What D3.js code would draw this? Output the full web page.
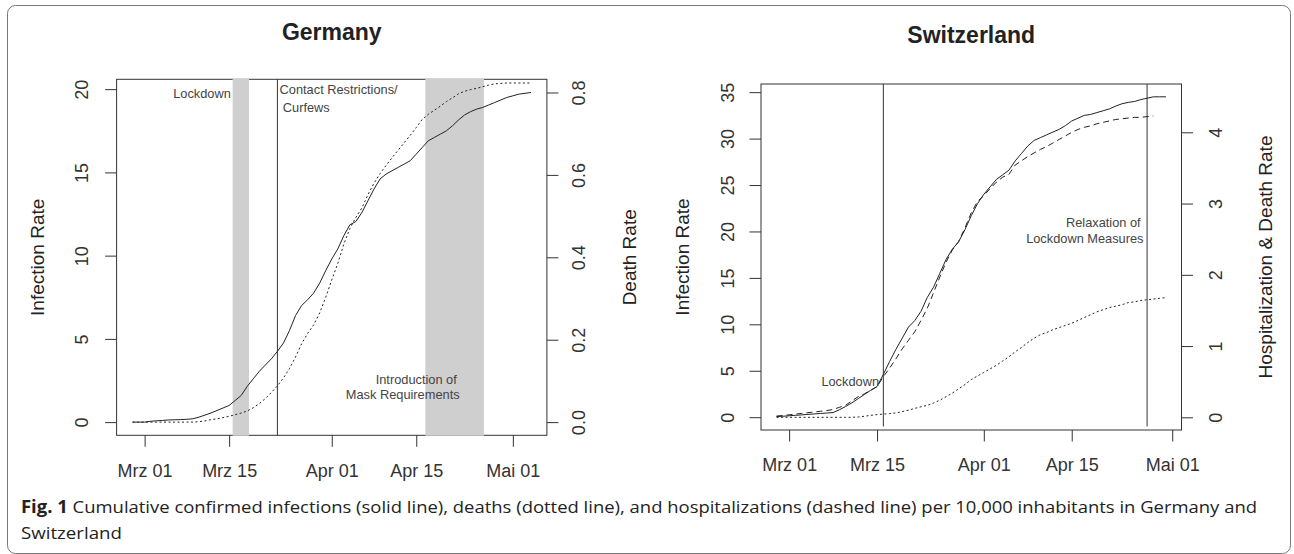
<!DOCTYPE html>
<html>
<head>
<meta charset="utf-8">
<script src="https://cdn.jsdelivr.net/npm/d3@7"></script>
<style>
  body { margin: 0; background: #fff; }
  svg { display: block; font-family: "Liberation Sans", Arial, sans-serif; }
</style>
</head>
<body>
<svg id="fig" width="1294" height="554"></svg>
<script>
// first day of every series, one value per day after that
const startDay = '2020-02-28'

const tickDays = ['2020-03-01', '2020-03-15', '2020-04-01', '2020-04-15', '2020-05-01']
const tickLabels = ['Mrz 01', 'Mrz 15', 'Apr 01', 'Apr 15', 'Mai 01']

// Germany, per 10,000 inhabitants
const deInfections = [0, 0, 0, 0.05, 0.08, 0.1, 0.13, 0.14, 0.15, 0.17, 0.2, 0.3, 0.42, 0.55, 0.7, 0.85,
  1.0, 1.3, 1.6, 2.15, 2.6, 3.05, 3.43, 3.8, 4.25, 4.75, 5.5, 6.4, 7.0, 7.35, 7.75, 8.35, 9.1, 9.8,
  10.4, 11.2, 11.85, 12.05, 12.6, 13.3, 14.0, 14.6, 14.9, 15.1, 15.3, 15.5, 15.7, 16.1, 16.5, 16.9,
  17.1, 17.3, 17.5, 17.8, 18.15, 18.45, 18.65, 18.8, 18.9, 19.05, 19.2, 19.35, 19.5, 19.6, 19.7, 19.75, 19.8]
const deDeaths = [0, 0, 0, 0, 0, 0, 0, 0, 0, 0, 0, 0.001, 0.003, 0.006, 0.008, 0.011, 0.014, 0.018,
  0.022, 0.027, 0.035, 0.045, 0.057, 0.072, 0.088, 0.107, 0.13, 0.158, 0.19, 0.215, 0.236, 0.265,
  0.303, 0.345, 0.385, 0.432, 0.47, 0.497, 0.52, 0.552, 0.58, 0.603, 0.623, 0.642, 0.66, 0.678,
  0.696, 0.715, 0.735, 0.747, 0.757, 0.767, 0.778, 0.787, 0.797, 0.803, 0.807, 0.81, 0.814, 0.818,
  0.821, 0.822, 0.823, 0.823, 0.823, 0.823, 0.823]
const deBands = [['2020-03-15 14:00', '2020-03-18 07:00'], ['2020-04-16 12:00', '2020-04-26 05:00']]
const deMarkers = ['2020-03-23 00:00']

// Switzerland, per 10,000 inhabitants
const chInfections = [0.07, 0.1, 0.15, 0.2, 0.25, 0.3, 0.35, 0.4, 0.45, 0.5, 0.8, 1.15, 1.55, 2.0,
  2.45, 2.9, 3.3, 4.6, 6.0, 7.3, 8.5, 9.7, 10.4, 11.4, 12.9, 14.0, 15.5, 17.0, 18.1, 18.9, 20.2,
  21.7, 23.0, 24.0, 24.8, 25.6, 26.1, 26.6, 27.6, 28.4, 29.2, 29.8, 30.1, 30.4, 30.7, 31.0, 31.4,
  31.9, 32.2, 32.5, 32.6, 32.8, 33.0, 33.2, 33.5, 33.75, 33.9, 34.0, 34.2, 34.35, 34.5, 34.5, 34.5]
const chHospital = [0.018, 0.025, 0.035, 0.045, 0.055, 0.065, 0.075, 0.085, 0.095, 0.11, 0.14, 0.17,
  0.23, 0.29, 0.33, 0.38, 0.43, 0.57, 0.69, 0.82, 0.96, 1.08, 1.2, 1.36, 1.53, 1.75, 1.97, 2.18,
  2.35, 2.47, 2.66, 2.87, 3.03, 3.11, 3.21, 3.3, 3.37, 3.41, 3.54, 3.6, 3.66, 3.71, 3.76, 3.8,
  3.85, 3.9, 3.95, 4.0, 4.04, 4.07, 4.09, 4.12, 4.14, 4.16, 4.18, 4.19, 4.2, 4.21, 4.21, 4.22, 4.23]
const chDeaths = [0, 0, 0, 0, 0, 0, 0, 0, 0, 0, 0, 0, 0, 0.005, 0.015, 0.028, 0.038, 0.045, 0.052,
  0.062, 0.08, 0.1, 0.125, 0.148, 0.168, 0.2, 0.24, 0.29, 0.34, 0.4, 0.46, 0.53, 0.58, 0.63, 0.68,
  0.73, 0.79, 0.85, 0.92, 0.98, 1.05, 1.11, 1.16, 1.19, 1.23, 1.26, 1.29, 1.32, 1.36, 1.4, 1.44,
  1.48, 1.51, 1.54, 1.56, 1.58, 1.61, 1.62, 1.64, 1.65, 1.66, 1.67, 1.68]
const chMarkers = ['2020-03-16 00:00', '2020-04-27 00:00']

const parseDay = d3.timeParse('%Y-%m-%d')
const parseTime = d3.timeParse('%Y-%m-%d %H:%M')
const start = parseDay(startDay)
const ink = '#222'

const svg = d3.select('#fig')

svg.append('rect')
  .attr('x', 7.5).attr('y', 5.5)
  .attr('width', 1283).attr('height', 548)
  .attr('rx', 8)
  .attr('fill', '#fff')
  .attr('stroke', '#777')

// d3 axes set their own font, put ours back afterwards
function styleAxis (a) {
  a.attr('font-size', 18).attr('font-family', null).attr('color', '#333')
  a.select('.domain').remove()
}

function drawPanel (p) {
  const g = svg.append('g')

  const days = d3.max(p.series, s => s.values.length) - 1
  const end = d3.timeDay.offset(start, days)
  const pad = (end - start) * 0.04
  const x = d3.scaleTime()
    .domain([new Date(+start - pad), new Date(+end + pad)])
    .range([p.left, p.right])

  const yMax = d3.max(p.series[0].values)
  const y = d3.scaleLinear().domain([-yMax * 0.04, yMax * 1.04]).range([p.bottom, p.top])
  const y2 = d3.scaleLinear().domain(p.rightDomain).range([p.bottom, p.top])

  // plot box
  g.append('rect')
    .attr('x', p.left).attr('y', p.top)
    .attr('width', p.right - p.left).attr('height', p.bottom - p.top)
    .attr('fill', 'none').attr('stroke', '#333')

  // shaded periods sit over the box edge
  g.selectAll('rect.band')
    .data(p.bands || [])
    .enter().append('rect')
    .attr('class', 'band')
    .attr('x', d => x(parseTime(d[0])))
    .attr('width', d => x(parseTime(d[1])) - x(parseTime(d[0])))
    .attr('y', p.top - 0.5)
    .attr('height', p.bottom - p.top + 1)
    .attr('fill', '#cfcfcf')

  g.selectAll('line.marker')
    .data(p.markers)
    .enter().append('line')
    .attr('class', 'marker')
    .attr('x1', d => x(parseTime(d))).attr('x2', d => x(parseTime(d)))
    .attr('y1', p.markerFrom == null ? p.bottom : y(p.markerFrom))
    .attr('y2', p.top)
    .attr('stroke', '#333')

  // axes
  const xAxis = d3.axisBottom(x)
    .tickValues(tickDays.map(parseDay))
    .tickFormat((d, i) => tickLabels[i])
    .tickSize(11.5).tickPadding(17).tickSizeOuter(0)
  g.append('g')
    .attr('transform', 'translate(0,' + p.bottom + ')')
    .call(xAxis)
    .call(styleAxis)

  const yAxis = d3.axisLeft(y).tickValues(p.leftTicks).tickSize(11.5).tickSizeOuter(0)
  g.append('g')
    .attr('transform', 'translate(' + p.left + ',0)')
    .call(yAxis)
    .call(styleAxis)
    .call(a => a.selectAll('text')
      .attr('x', null).attr('dy', null)
      .attr('text-anchor', 'middle')
      .attr('transform', 'translate(' + (-p.leftLabel) + ',0) rotate(-90)'))

  const y2Axis = d3.axisRight(y2).tickValues(p.rightTicks).tickFormat(p.rightFormat)
    .tickSize(11.5).tickSizeOuter(0)
  g.append('g')
    .attr('transform', 'translate(' + p.right + ',0)')
    .call(y2Axis)
    .call(styleAxis)
    .call(a => a.selectAll('text')
      .attr('x', null).attr('dy', null)
      .attr('text-anchor', 'middle')
      .attr('transform', 'translate(' + p.rightLabel + ',0) rotate(-90)'))

  const midY = (p.top + p.bottom) / 2
  g.append('text')
    .attr('transform', 'translate(' + (p.left - p.leftTitle) + ',' + midY + ') rotate(-90)')
    .attr('text-anchor', 'middle').attr('font-size', 19).attr('fill', ink)
    .text(p.leftName)
  g.append('text')
    .attr('transform', 'translate(' + (p.right + p.rightTitle) + ',' + midY + ') rotate(-90)')
    .attr('text-anchor', 'middle').attr('font-size', 19).attr('fill', ink)
    .text(p.rightName)

  g.append('text')
    .attr('x', (p.left + p.right) / 2).attr('y', p.titleY)
    .attr('text-anchor', 'middle')
    .attr('font-size', 23).attr('font-weight', 'bold').attr('fill', ink)
    .text(p.title)

  // series
  p.series.forEach(s => {
    const scale = s.right ? y2 : y
    const line = d3.line()
      .x((d, i) => x(d3.timeDay.offset(start, i)))
      .y(d => scale(d))
    g.append('path')
      .datum(s.values)
      .attr('d', line)
      .attr('fill', 'none')
      .attr('stroke', ink)
      .attr('stroke-width', 1)
      .attr('stroke-dasharray', s.dash)
  })

  g.selectAll('text.note')
    .data(p.notes)
    .enter().append('text')
    .attr('class', 'note')
    .attr('x', d => d.x).attr('y', d => d.y)
    .attr('text-anchor', d => d.anchor)
    .attr('font-size', 12.8)
    .attr('fill', '#444')
    .text(d => d.text)
}

drawPanel({
  title: 'Germany', titleY: 40,
  left: 116.6, right: 546.9, top: 79.3, bottom: 435.3,
  leftTicks: [0, 5, 10, 15, 20], rightTicks: [0, 0.2, 0.4, 0.6, 0.8],
  rightFormat: d3.format('.1f'), rightDomain: [-0.032, 0.832],
  leftLabel: 28.5, rightLabel: 38.5, leftTitle: 73, rightTitle: 89,
  leftName: 'Infection Rate', rightName: 'Death Rate',
  bands: deBands, markers: deMarkers, markerFrom: null,
  series: [
    { values: deInfections, right: false, dash: null },
    { values: deDeaths, right: true, dash: '2,2.5' }
  ],
  notes: [
    { text: 'Lockdown', x: 230.8, y: 97.5, anchor: 'end' },
    { text: 'Contact Restrictions/', x: 279.6, y: 93.5, anchor: 'start' },
    { text: 'Curfews', x: 282.8, y: 111.5, anchor: 'start' },
    { text: 'Introduction of', x: 456.8, y: 383.5, anchor: 'end' },
    { text: 'Mask Requirements', x: 459.6, y: 399, anchor: 'end' }
  ]
})

drawPanel({
  title: 'Switzerland', titleY: 43,
  left: 761, right: 1181.5, top: 84, bottom: 430,
  leftTicks: [0, 5, 10, 15, 20, 25, 30, 35], rightTicks: [0, 1, 2, 3, 4],
  rightFormat: d3.format('d'), rightDomain: [-0.178, 4.678],
  leftLabel: 27, rightLabel: 40.5, leftTitle: 71.6, rightTitle: 90.5,
  leftName: 'Infection Rate', rightName: 'Hospitalization & Death Rate',
  bands: [], markers: chMarkers, markerFrom: -1,
  series: [
    { values: chInfections, right: false, dash: null },
    { values: chHospital, right: true, dash: '6,4' },
    { values: chDeaths, right: true, dash: '2,2.5' }
  ],
  notes: [
    { text: 'Lockdown', x: 879, y: 386, anchor: 'end' },
    { text: 'Relaxation of', x: 1140.7, y: 227.3, anchor: 'end' },
    { text: 'Lockdown Measures', x: 1143.5, y: 242.7, anchor: 'end' }
  ]
})

// caption
const caption = svg.append('g')
  .attr('font-family', '"Open Sans", "Noto Sans", sans-serif')
  .attr('font-size', 17)
  .attr('fill', ink)
const line1 = caption.append('text')
  .attr('x', 21).attr('y', 513)
  .attr('textLength', 1236).attr('lengthAdjust', 'spacingAndGlyphs')
line1.append('tspan').attr('font-weight', 'bold').text('Fig. 1')
line1.append('tspan').text(' Cumulative confirmed infections (solid line), deaths (dotted line), and hospitalizations (dashed line) per 10,000 inhabitants in Germany and')
caption.append('text')
  .attr('x', 21).attr('y', 539)
  .attr('textLength', 101).attr('lengthAdjust', 'spacingAndGlyphs')
  .text('Switzerland')
</script>
</body>
</html>
